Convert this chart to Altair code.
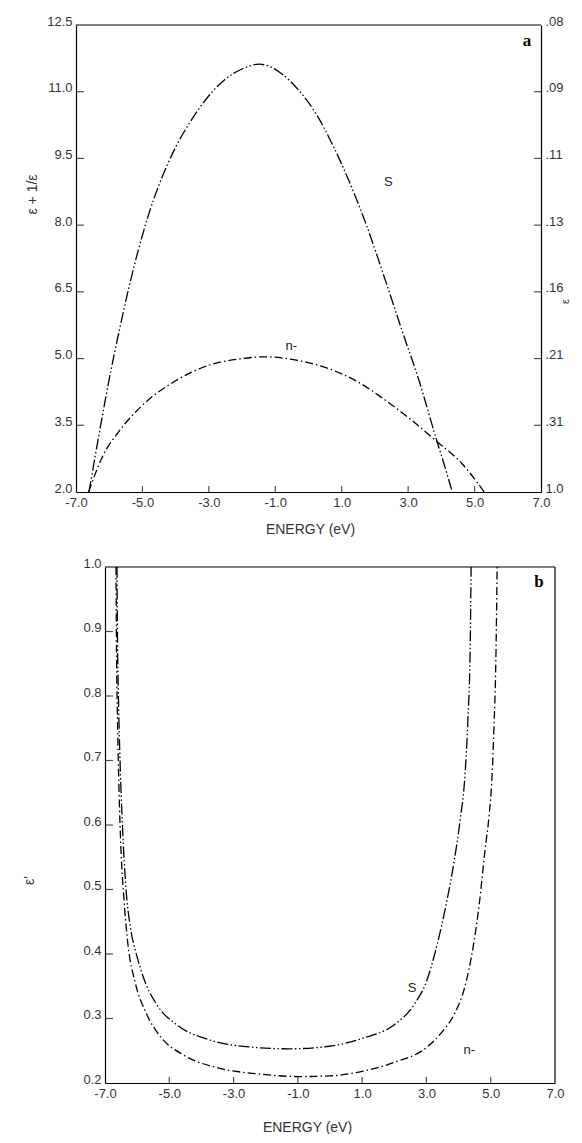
import altair as alt
import pandas as pd

# ---------------- data ----------------
x_ticks = [-7.0, -5.0, -3.0, -1.0, 1.0, 3.0, 5.0, 7.0]

# panel a : epsilon + 1/epsilon vs energy
a_y_ticks = [2.0, 3.5, 5.0, 6.5, 8.0, 9.5, 11.0, 12.5]
a_eps_labels = ["1.0", ".31", ".21", ".16", ".13", ".11", ".09", ".08"]

a_S_x = [-6.61, -6.31, -6.01, -5.70, -5.25, -4.80, -4.20, -3.45, -2.54, -2.0, -1.49,
         -0.80, -0.28, 0.23, 0.71, 1.22, 1.73, 2.31, 2.82, 3.33, 3.84, 4.08, 4.33]
a_S_y = [2.0, 3.28, 4.50, 5.62, 7.08, 8.27, 9.44, 10.45, 11.26, 11.51, 11.62,
         11.40, 11.02, 10.50, 9.83, 8.99, 8.03, 6.77, 5.62, 4.50, 3.21, 2.63, 2.0]

a_N_x = [-6.62, -6.2, -5.7, -5.0, -4.0, -3.0, -2.0, -1.3, -0.5, 0.5, 1.43, 2.34,
         3.03, 3.84, 4.63, 5.29]
a_N_y = [2.0, 2.8, 3.37, 3.95, 4.5, 4.85, 5.0, 5.04, 4.98, 4.8, 4.5, 4.05,
         3.66, 3.15, 2.63, 2.0]

a_lab_text = ["S", "n-"]
a_lab_x = [2.40, -0.52]
a_lab_y = [8.97, 5.28]

# panel b : epsilon' vs energy
b_y_ticks = [0.2, 0.3, 0.4, 0.5, 0.6, 0.7, 0.8, 0.9, 1.0]

b_S_x = [-6.627, -6.611, -6.58, -6.533, -6.456, -6.347, -6.222, -6.035, -5.755, -5.382,
         -4.76, -3.764, -2.52, -1.27, -0.03, 1.06, 1.99, 2.61, 3.02, 3.33, 3.61, 3.86,
         4.05, 4.20, 4.29, 4.36, 4.39]
b_S_y = [1.0, 0.888, 0.794, 0.701, 0.598, 0.501, 0.445, 0.402, 0.357, 0.321,
         0.290, 0.267, 0.256, 0.253, 0.257, 0.270, 0.290, 0.321, 0.360, 0.414, 0.476, 0.543,
         0.608, 0.678, 0.763, 0.871, 1.0]

b_N_x = [-6.658, -6.642, -6.611, -6.564, -6.502, -6.409, -6.284, -6.067, -5.724, -5.258,
         -4.542, -3.453, -2.208, -0.964, 0.0, 1.0, 2.0, 3.0, 3.5, 3.9, 4.2, 4.45, 4.65,
         4.82, 4.95, 5.04, 5.10, 5.16, 5.2]
b_N_y = [1.0, 0.871, 0.763, 0.654, 0.561, 0.484, 0.414, 0.357, 0.309, 0.271,
         0.243, 0.223, 0.214, 0.210, 0.211, 0.218, 0.232, 0.255, 0.28, 0.31, 0.35, 0.41, 0.48,
         0.56, 0.615, 0.674, 0.75, 0.856, 1.0]

b_lab_text = ["S", "n-"]
b_lab_x = [2.55, 4.33]
b_lab_y = [0.347, 0.251]

# ---------------- helpers ----------------
FONT = "Liberation Sans"
TXT = "#333333"


def curve_df(series):
    rows = []
    for name, xs, ys in series:
        for i, (x, y) in enumerate(zip(xs, ys)):
            rows.append({"x": x, "y": y, "series": name, "order": i})
    return pd.DataFrame(rows)


dash_scale = alt.Scale(domain=["S", "n-"],
                       range=[[11, 2.5, 1.5, 2.5, 1.5, 2.5], [8, 3, 1.5, 3]])
xlab_expr = "(datum.value < 0 ? '-' : '') + format(abs(datum.value), '.1f')"
eps_expr = " : ".join(
    f"abs(datum.value - {v}) < 0.01 ? '{t}'" for v, t in zip(a_y_ticks, a_eps_labels)
) + " : ''"


def axis_common(**kw):
    base = dict(ticks=False, grid=False, domain=True, domainColor="black",
                domainWidth=1.2, labelFont=FONT, labelFontSize=13, labelColor=TXT,
                labelOverlap=False, labelFlush=False, titleFont=FONT,
                titleFontWeight="normal", titleColor=TXT)
    base.update(kw)
    return alt.Axis(**base)


def panel(df, ylim, yticks, yaxis_kw, xaxis_kw, lab_text, lab_x, lab_y, letter,
          letter_xy, width, left_shift):
    xscale = alt.Scale(domain=[-7, 7], range=[-left_shift, width], nice=False, zero=False)
    yscale = alt.Scale(domain=ylim, nice=False, zero=False)

    lines = alt.Chart(df).mark_line(color="black", strokeWidth=1.3,
                                    interpolate="monotone").encode(
        x=alt.X("x:Q", scale=xscale, axis=axis_common(
            values=x_ticks, labelExpr=xlab_expr, labelPadding=4, title="ENERGY (eV)",
            titleFontSize=14, **xaxis_kw)),
        y=alt.Y("y:Q", scale=yscale, axis=axis_common(
            values=yticks, format=".1f", labelPadding=4, labelBaseline="alphabetic",
            offset=left_shift, titleFontSize=14, titleAngle=270, titleAlign="center",
            titleBaseline="middle", **yaxis_kw)),
        strokeDash=alt.StrokeDash("series:N", scale=dash_scale, legend=None),
        detail="series:N",
        order="order:Q",
    )

    frame_top = alt.Chart(pd.DataFrame({"x": [-7.0], "x2": [7.0], "y": [ylim[1]]})).mark_rule(
        color="black", strokeWidth=1.2).encode(
        x=alt.X("x:Q", scale=xscale), x2="x2:Q", y=alt.Y("y:Q", scale=yscale))

    inner_y = [v for v in yticks if ylim[0] < v < ylim[1]]
    left_ticks = alt.Chart(pd.DataFrame({"v": inner_y})).mark_tick(
        orient="horizontal", size=8, xOffset=4, thickness=1.2, color="black").encode(
        x=alt.XDatum(-7.0, type="quantitative", scale=xscale),
        y=alt.Y("v:Q", scale=yscale))

    inner_x = [v for v in x_ticks if -7 < v < 7]
    bottom_ticks = alt.Chart(pd.DataFrame({"v": inner_x})).mark_tick(
        orient="vertical", size=6, yOffset=-3, thickness=1.2, color="black").encode(
        x=alt.X("v:Q", scale=xscale),
        y=alt.YDatum(ylim[0], type="quantitative", scale=yscale))

    labels = alt.Chart(pd.DataFrame({"t": lab_text, "x": lab_x, "y": lab_y})).mark_text(
        font=FONT, fontSize=13, color="#222222").encode(
        x=alt.X("x:Q", scale=xscale), y=alt.Y("y:Q", scale=yscale), text="t:N")

    let = alt.Chart(pd.DataFrame({"t": [letter], "x": [letter_xy[0]], "y": [letter_xy[1]]})).mark_text(
        font="Liberation Serif", fontSize=17, fontWeight="bold", color="black").encode(
        x=alt.X("x:Q", scale=xscale), y=alt.Y("y:Q", scale=yscale), text="t:N")

    return xscale, yscale, [lines, frame_top, left_ticks, bottom_ticks, labels, let]


# ---------------- panel a ----------------
A_W, A_H, A_SHIFT = 436, 467, 29
df_a = curve_df([("S", a_S_x, a_S_y), ("n-", a_N_x, a_N_y)])
xs_a, ys_a, layers_a = panel(
    df_a, [2.0, 12.5], a_y_ticks,
    dict(title="ε + 1/ε", titleX=-44, titleY=169),
    dict(titleX=205, titleY=37, titleBaseline="middle", titleAlign="center"),
    a_lab_text, a_lab_x, a_lab_y, "a", (6.58, 12.14), A_W, A_SHIFT)

right_scale = alt.Scale(domain=[2.0, 12.5], nice=False, zero=False)
right_a = alt.Chart(pd.DataFrame({"v": [v for v in a_y_ticks if 2.0 < v < 12.5]})).mark_tick(
    orient="horizontal", size=7, xOffset=-3.5, thickness=1.2, color="black").encode(
    x=alt.XDatum(7.0, type="quantitative", scale=xs_a),
    y=alt.Y("v:Q", scale=right_scale, axis=axis_common(
        orient="right", values=a_y_ticks, labelExpr=eps_expr, labelPadding=4,
        labelBaseline="alphabetic", title="ε", titleFontSize=11, titleAngle=270,
        titleX=24, titleY=276, titleAlign="center", titleBaseline="middle")))

panel_a = alt.layer(alt.layer(*layers_a), right_a).resolve_scale(
    y="independent").properties(width=A_W, height=A_H)

# ---------------- panel b ----------------
B_W, B_H = 450, 516
df_b = curve_df([("S", b_S_x, b_S_y), ("n-", b_N_x, b_N_y)])
xs_b, ys_b, layers_b = panel(
    df_b, [0.2, 1.0], b_y_ticks,
    dict(title="ε'", titleX=-76, titleY=313),
    dict(titleX=202, titleY=44, titleBaseline="middle", titleAlign="center"),
    b_lab_text, b_lab_x, b_lab_y, "b", (6.50, 0.977), B_W, 0)

frame_right_b = alt.Chart(pd.DataFrame({"x": [7.0], "y": [0.2], "y2": [1.0]})).mark_rule(
    color="black", strokeWidth=1.2).encode(
    x=alt.X("x:Q", scale=xs_b), y=alt.Y("y:Q", scale=ys_b), y2="y2:Q")

panel_b = alt.layer(*layers_b, frame_right_b).properties(width=B_W, height=B_H)

chart = alt.vconcat(panel_a, panel_b, spacing=21).properties(
    padding={"left": 14, "top": 7, "right": 0, "bottom": 0},
    background="white",
).configure_view(stroke=None)

chart.save("out.html", embed_options={"renderer": "svg", "actions": False})
